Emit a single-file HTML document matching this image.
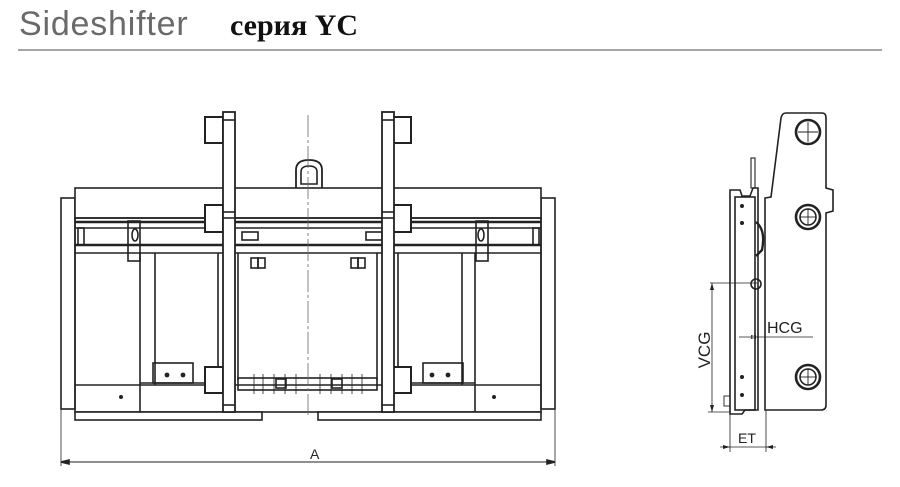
<!DOCTYPE html>
<html><head><meta charset="utf-8"><style>
html,body{margin:0;padding:0;background:#fff;width:900px;height:487px;overflow:hidden}
svg{display:block}
</style></head><body>
<svg width="900" height="487" viewBox="0 0 900 487" xmlns="http://www.w3.org/2000/svg">
<text x="19" y="35" font-family="Liberation Sans, sans-serif" font-size="34" fill="#6a6a6a" letter-spacing="0.8">Sideshifter</text>
<text x="230" y="35" font-family="Liberation Serif, serif" font-size="30" font-weight="bold" fill="#111">серия YC</text>
<line x1="18" y1="50" x2="882" y2="50" stroke="#888" stroke-width="1.5"/>

<g fill="none" stroke="#222" stroke-width="1.6">
<rect x="61" y="198" width="14" height="211" fill="#fff"/>
<rect x="541" y="198" width="14" height="211" fill="#fff"/>
<rect x="75" y="188" width="466" height="30" fill="#fff"/>
<rect x="75" y="218" width="466" height="194"/>
<line x1="75" y1="222" x2="541" y2="222" stroke-width="2.5"/>
<line x1="75" y1="228" x2="541" y2="228"/>
<line x1="75" y1="245" x2="541" y2="245" stroke-width="2.5"/>
<line x1="75" y1="253" x2="541" y2="253"/>
<rect x="78" y="228" width="6" height="17"/>
<rect x="533" y="228" width="6" height="17"/>
<rect x="128" y="221" width="12" height="40"/>
<rect x="476" y="221" width="12" height="40"/>
<ellipse cx="135" cy="235" rx="3" ry="6"/>
<ellipse cx="481" cy="235" rx="3" ry="6"/>
<line x1="140" y1="253" x2="140" y2="412"/>
<line x1="155" y1="253" x2="155" y2="385"/>
<line x1="218" y1="253" x2="218" y2="385"/>
<line x1="238" y1="253" x2="238" y2="380"/>
<line x1="377" y1="253" x2="377" y2="380"/>
<line x1="398" y1="253" x2="398" y2="385"/>
<line x1="462" y1="253" x2="462" y2="385"/>
<line x1="475" y1="253" x2="475" y2="412"/>
<line x1="75" y1="385" x2="541" y2="385"/>
<line x1="140" y1="383" x2="218" y2="383"/>
<line x1="398" y1="383" x2="475" y2="383"/>
<rect x="153" y="363" width="40" height="20"/>
<rect x="423" y="363" width="40" height="20"/>
<g fill="#222" stroke="none">
<circle cx="167" cy="375" r="2.4"/><circle cx="183" cy="375" r="2.4"/>
<circle cx="432" cy="375" r="2.4"/><circle cx="448" cy="375" r="2.4"/>
<circle cx="121" cy="397" r="2"/><circle cx="494" cy="397" r="2"/>
</g>
<rect x="238" y="378" width="139" height="12"/>
<g stroke-width="0.8">
<line x1="254" y1="374" x2="254" y2="394"/><line x1="263" y1="374" x2="263" y2="394"/>
<line x1="274" y1="374" x2="274" y2="394"/><line x1="285" y1="374" x2="285" y2="394"/>
<line x1="296" y1="374" x2="296" y2="394"/><line x1="320" y1="374" x2="320" y2="394"/>
<line x1="331" y1="374" x2="331" y2="394"/><line x1="342" y1="374" x2="342" y2="394"/>
<line x1="352" y1="374" x2="352" y2="394"/><line x1="362" y1="374" x2="362" y2="394"/>
</g>
<rect x="276" y="379" width="10" height="9"/><rect x="332" y="379" width="10" height="9"/>
<rect x="242" y="232" width="16" height="8"/>
<rect x="366" y="232" width="16" height="8"/>
<rect x="251" y="258" width="7" height="10"/><rect x="258" y="258" width="7" height="10"/>
<rect x="351" y="258" width="7" height="10"/><rect x="358" y="258" width="7" height="10"/>
<rect x="75" y="412" width="187" height="8" fill="#fff"/>
<rect x="318" y="412" width="223" height="8" fill="#fff"/>
<rect x="205" y="117" width="18" height="26" fill="#fff" stroke-width="2"/>
<rect x="393" y="117" width="18" height="26" fill="#fff" stroke-width="2"/>
<rect x="205" y="205" width="18" height="27" fill="#fff" stroke-width="2"/>
<rect x="393" y="205" width="18" height="27" fill="#fff" stroke-width="2"/>
<rect x="205" y="367" width="18" height="26" fill="#fff" stroke-width="2"/>
<rect x="393" y="367" width="18" height="26" fill="#fff" stroke-width="2"/>
<rect x="223" y="112" width="12" height="300" fill="#fff" stroke-width="1.8"/>
<rect x="382" y="112" width="12" height="300" fill="#fff" stroke-width="1.8"/>
<line x1="223" y1="120" x2="235" y2="120"/><line x1="382" y1="120" x2="394" y2="120"/>
<line x1="223" y1="212" x2="235" y2="212"/><line x1="382" y1="212" x2="394" y2="212"/>
<line x1="223" y1="218" x2="235" y2="218"/><line x1="382" y1="218" x2="394" y2="218"/>
<line x1="223" y1="405" x2="235" y2="405"/><line x1="382" y1="405" x2="394" y2="405"/>
<path d="M296 188 L296 170 Q296 160 309 160 Q322 160 322 170 L322 188" stroke-width="1.8"/>
<path d="M301 184 L301 172 Q301 166 309 166 Q317 166 317 172 L317 184 Z"/>
<line x1="308" y1="115" x2="308" y2="415" stroke="#666" stroke-width="0.8" stroke-dasharray="22,3,3,3"/>
<line x1="61" y1="409" x2="61" y2="466" stroke-width="0.8"/>
<line x1="555" y1="409" x2="555" y2="466" stroke-width="0.8"/>
<line x1="61" y1="462" x2="555" y2="462" stroke-width="1"/>
<path d="M61 462 l8 -2 v4 Z M555 462 l-8 -2 v4 Z" fill="#222"/>
</g>
<text x="310" y="459" font-family="Liberation Sans, sans-serif" font-size="14" fill="#222">A</text>

<g fill="none" stroke="#222" stroke-width="1.6">
<path d="M786 113 L822 113 Q826 113 826 118 L826 188 L833 190 L833 211 L826 213 L826 405 Q826 410 821 410 L765 410 L765 198 L771 197 L781 118 Q782 113 786 113 Z"/>
<g stroke-width="2.6">
<circle cx="808" cy="132" r="12"/><circle cx="808" cy="217" r="12"/><circle cx="808" cy="377" r="12"/>
</g>
<circle cx="808" cy="217" r="8"/><circle cx="808" cy="377" r="8"/>
<g stroke-width="0.9">
<line x1="798" y1="132" x2="818" y2="132"/><line x1="808" y1="122" x2="808" y2="142"/>
<line x1="800" y1="217" x2="816" y2="217"/><line x1="808" y1="209" x2="808" y2="225"/>
<line x1="800" y1="377" x2="816" y2="377"/><line x1="808" y1="369" x2="808" y2="385"/>
</g>
<path d="M730 190 L740 190 L742 196 L750 196 L753 188 L758 188 L758 410 L745 410 L742 414 L730 414 Z"/>
<rect x="735" y="197" width="20" height="213"/>
<rect x="751" y="158" width="4" height="30" stroke-width="1.1"/>
<path d="M756 222 Q766 230 762 250 L756 256" stroke-width="2.4"/>
<circle cx="756" cy="284" r="5"/>
<g fill="#222" stroke="none">
<circle cx="742" cy="206" r="2"/><circle cx="742" cy="223" r="2"/>
<circle cx="742" cy="377" r="2"/><circle cx="742" cy="395" r="2"/>
</g>
<rect x="724" y="396" width="6" height="10" stroke-width="0.9"/>
<g stroke-width="0.8">
<line x1="710" y1="283" x2="757" y2="283"/>
<line x1="712" y1="283" x2="712" y2="412"/>
<line x1="708" y1="412" x2="730" y2="412"/>
<line x1="739" y1="337" x2="813" y2="337"/>
<line x1="730" y1="412" x2="730" y2="452"/>
<line x1="766" y1="410" x2="766" y2="452"/>
<line x1="720" y1="447" x2="776" y2="447"/>
</g>
<path d="M712 283 l-2 7 h4 Z M712 412 l-2 -7 h4 Z M757 337 l-6 -2 v4 Z M750 337 l6 -2 v4 Z M730 447 l-7 -2 v4 Z M766 447 l7 -2 v4 Z" fill="#222" stroke="none"/>
</g>
<text transform="translate(710,350) rotate(-90)" font-family="Liberation Sans, sans-serif" font-size="17" fill="#222" text-anchor="middle">VCG</text>
<text x="767" y="333" font-family="Liberation Sans, sans-serif" font-size="16" fill="#222">HCG</text>
<text x="738" y="443" font-family="Liberation Sans, sans-serif" font-size="14" fill="#222">ET</text>
</svg>
</body></html>
